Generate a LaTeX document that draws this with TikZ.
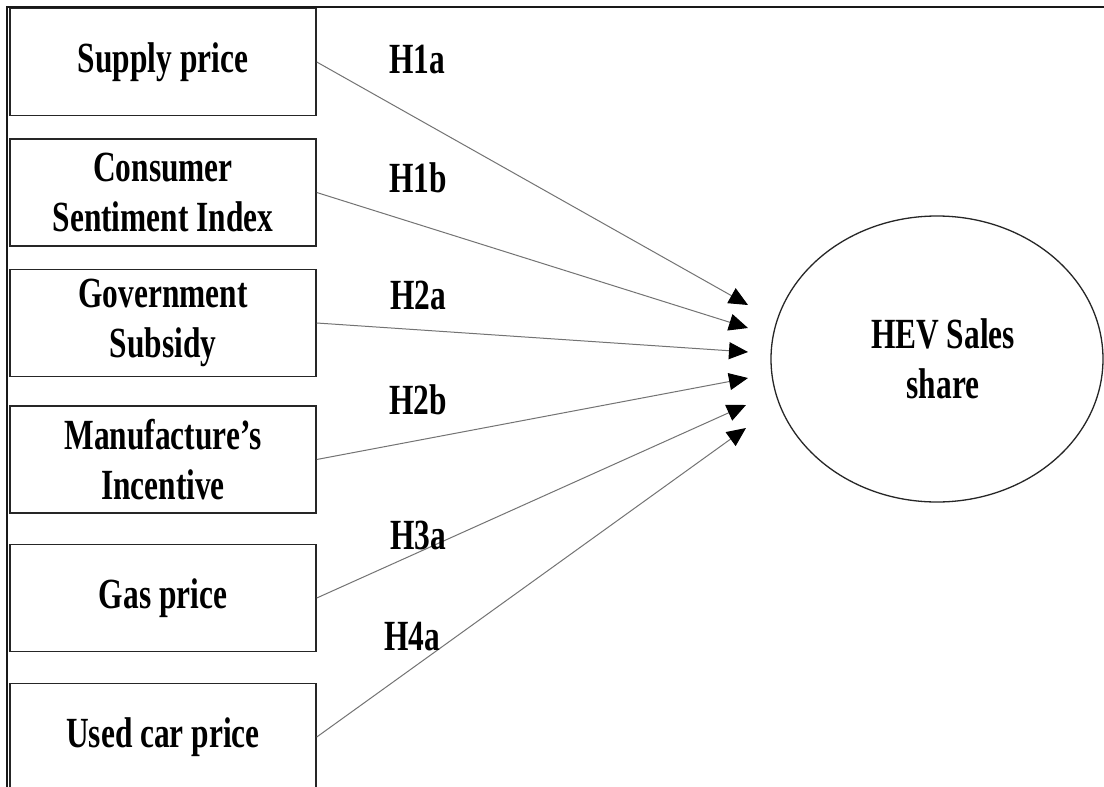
\documentclass[tikz,border=0pt]{standalone}
\usepackage{fontspec}
\setmainfont[FakeStretch=0.73]{Liberation Serif}
\usetikzlibrary{arrows.meta,shapes.geometric}
\begin{document}
\begin{tikzpicture}[x=1pt,y=-1pt,
  every node/.style={font=\fontsize{43}{50}\selectfont\bfseries},
  varbox/.style={draw=black!85,line width=1.5pt,minimum width=306pt,minimum height=107pt,inner sep=0pt,align=center},
  outcome/.style={ellipse,draw=black!85,line width=1.3pt,minimum width=332pt,minimum height=286pt,inner sep=0pt,align=center},
  hlabel/.style={inner sep=0pt},
  link/.style={draw=black!55,line width=1pt,-{Triangle[length=19pt,width=17pt,color=black,fill=black]}}]
\clip (0,0) rectangle (1104,787);
\fill[white] (0,0) rectangle (1104,787);
\draw[line width=2pt,black!90] (1104,7) -- (7,7) -- (7,787);
\node[varbox] (sp) at (163,62) {Supply price};
\node[varbox] (csi) at (163,192.5) {Consumer\\Sentiment Index};
\node[varbox] (gs) at (163,323) {Government\\Subsidy};
\node[varbox] (mi) at (163,459.5) {Manufacture’s\\Incentive};
\node[varbox] (gp) at (163,598) {Gas price};
\node[varbox] (uc) at (163,737) {Used car price};
\node[outcome] (hev) at (937,359) {\hspace*{12pt}HEV Sales\\\hspace*{12pt}share};
\coordinate (t1) at (748,305);
\coordinate (t2) at (748,328);
\coordinate (t3) at (748,352);
\coordinate (t4) at (748,378);
\coordinate (t5) at (746,405);
\coordinate (t6) at (746,428);
\draw[link] (sp.east) -- (t1);
\draw[link] (csi.east) -- (t2);
\draw[link] (gs.east) -- (t3);
\draw[link] (mi.east) -- (t4);
\draw[link] (gp.east) -- (t5);
\draw[link] (uc.east) -- (t6);
\node[hlabel] (h1a) at (417,60) {H1a};
\node[hlabel] (h1b) at (418,178) {H1b};
\node[hlabel] (h2a) at (418,295) {H2a};
\node[hlabel] (h2b) at (418,400) {H2b};
\node[hlabel] (h3a) at (418,535) {H3a};
\node[hlabel] (h4a) at (412,637) {H4a};
\end{tikzpicture}
\end{document}
